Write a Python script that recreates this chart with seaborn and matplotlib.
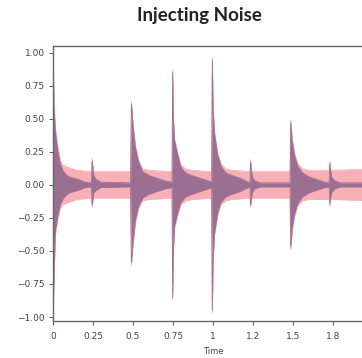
import numpy as np
import pandas as pd
import matplotlib
matplotlib.use("Agg")
import matplotlib.pyplot as plt
import seaborn as sns

# clean signal envelope (time in s, upper, lower)
clean_t = [0.000, 0.006, 0.015, 0.030, 0.045, 0.060, 0.080, 0.100, 0.130, 0.160, 0.200,
           0.240, 0.245, 0.255, 0.270, 0.300, 0.485,
           0.490, 0.500, 0.515, 0.535, 0.560, 0.600, 0.650, 0.700, 0.744,
           0.748, 0.752, 0.760, 0.780, 0.800, 0.830, 0.870, 0.920, 0.970, 0.992,
           0.996, 1.000, 1.010, 1.030, 1.050, 1.080, 1.120, 1.170, 1.220, 1.231,
           1.235, 1.245, 1.260, 1.300, 1.482,
           1.486, 1.495, 1.510, 1.530, 1.560, 1.600, 1.650, 1.700, 1.726,
           1.730, 1.740, 1.760, 1.800, 2.000]
clean_hi = [1.00, 0.60, 0.40, 0.26, 0.16, 0.11, 0.08, 0.06, 0.05, 0.04, 0.02,
            0.015, 0.18, 0.07, 0.04, 0.02, 0.015,
            0.61, 0.45, 0.28, 0.17, 0.10, 0.07, 0.05, 0.03, 0.02,
            0.85, 0.50, 0.33, 0.22, 0.13, 0.09, 0.07, 0.05, 0.03, 0.02,
            0.94, 0.58, 0.38, 0.22, 0.14, 0.09, 0.07, 0.05, 0.02, 0.015,
            0.17, 0.06, 0.03, 0.015, 0.015,
            0.47, 0.33, 0.22, 0.14, 0.09, 0.06, 0.04, 0.02, 0.015,
            0.16, 0.06, 0.03, 0.015, 0.015]
clean_lo = [-1.00, -0.70, -0.35, -0.24, -0.15, -0.11, -0.08, -0.06, -0.05, -0.04, -0.02,
            -0.015, -0.15, -0.06, -0.04, -0.02, -0.015,
            -0.59, -0.44, -0.27, -0.16, -0.10, -0.07, -0.05, -0.03, -0.02,
            -0.85, -0.50, -0.31, -0.21, -0.13, -0.09, -0.07, -0.05, -0.03, -0.02,
            -0.95, -0.58, -0.36, -0.21, -0.13, -0.09, -0.07, -0.05, -0.02, -0.015,
            -0.15, -0.06, -0.03, -0.015, -0.015,
            -0.47, -0.33, -0.22, -0.14, -0.09, -0.06, -0.04, -0.02, -0.015,
            -0.14, -0.06, -0.03, -0.015, -0.015]

# noisy signal envelope (flat noise band, spikes poke out of it)
noisy_t = [0.000, 0.006, 0.015, 0.030, 0.045, 0.060, 0.080, 0.100, 0.150, 0.240,
           0.245, 0.252, 0.485,
           0.490, 0.500, 0.515, 0.535, 0.560, 0.600, 0.744,
           0.748, 0.752, 0.760, 0.780, 0.800, 0.830, 0.870, 0.990,
           0.996, 1.000, 1.010, 1.030, 1.050, 1.080, 1.120, 1.230,
           1.235, 1.242, 1.480,
           1.486, 1.495, 1.510, 1.530, 1.560, 1.600, 1.725,
           1.730, 1.737, 2.000]
noisy_hi = [1.03, 0.63, 0.43, 0.29, 0.19, 0.15, 0.14, 0.13, 0.11, 0.10,
            0.20, 0.10, 0.10,
            0.63, 0.47, 0.30, 0.19, 0.12, 0.11, 0.10,
            0.87, 0.52, 0.35, 0.24, 0.15, 0.12, 0.11, 0.10,
            0.96, 0.60, 0.40, 0.24, 0.16, 0.12, 0.11, 0.10,
            0.19, 0.10, 0.10,
            0.49, 0.35, 0.24, 0.16, 0.12, 0.11, 0.11,
            0.18, 0.11, 0.12]
noisy_lo = [-1.03, -0.72, -0.38, -0.26, -0.18, -0.15, -0.14, -0.13, -0.11, -0.10,
            -0.17, -0.10, -0.10,
            -0.61, -0.46, -0.29, -0.18, -0.12, -0.11, -0.10,
            -0.87, -0.52, -0.33, -0.23, -0.15, -0.12, -0.11, -0.10,
            -0.97, -0.60, -0.38, -0.23, -0.15, -0.12, -0.11, -0.10,
            -0.17, -0.10, -0.10,
            -0.49, -0.35, -0.24, -0.16, -0.12, -0.11, -0.11,
            -0.16, -0.11, -0.12]

x_ticks = [0, 0.25, 0.5, 0.75, 1.0, 1.25, 1.5, 1.75]
x_labels = ["0", "0.25", "0.5", "0.75", "1", "1.2", "1.5", "1.8"]
y_ticks = [1.0, 0.75, 0.5, 0.25, 0.0, -0.25, -0.5, -0.75, -1.0]

clean = pd.DataFrame({"t": clean_t, "hi": clean_hi, "lo": clean_lo})
noisy = pd.DataFrame({"t": noisy_t, "hi": noisy_hi, "lo": noisy_lo})

sns.set_theme(style="ticks")
plt.rcParams["font.family"] = ["DejaVu Sans"]

pink = "#f7b0b5"
mauve = "#9c6e92"

fig = plt.figure(figsize=(3.62, 3.58), dpi=100)
ax = fig.add_axes([53/362, 37/358, 320/362, 275/358])

ax.fill_between(noisy["t"], noisy["lo"], noisy["hi"], color=pink, linewidth=0)
sns.lineplot(data=noisy, x="t", y="hi", ax=ax, color=pink, linewidth=0.6)
sns.lineplot(data=noisy, x="t", y="lo", ax=ax, color=pink, linewidth=0.6)
ax.fill_between(clean["t"], clean["lo"], clean["hi"], color=mauve, linewidth=0)
sns.lineplot(data=clean, x="t", y="hi", ax=ax, color=mauve, linewidth=0.6)
sns.lineplot(data=clean, x="t", y="lo", ax=ax, color=mauve, linewidth=0.6)

ax.set_xlim(0, 2.0)
ax.set_ylim(-1.03, 1.05)
ax.set_xticks(x_ticks)
ax.set_xticklabels(x_labels)
ax.set_yticks(y_ticks)
ax.set_yticklabels([f"{v:.2f}".replace("-", "\u2212") for v in y_ticks])
ax.tick_params(axis="both", labelsize=6.5, length=3, width=0.7, colors="#555555",
               labelcolor="#444444")
ax.tick_params(axis="x", pad=5)
ax.tick_params(axis="y", pad=3)
ax.set_xlabel("Time", fontsize=6, color="#444444", labelpad=4)
ax.set_ylabel("")
for s in ax.spines.values():
    s.set_color("#666666")
    s.set_linewidth(1.0)

fig.text(199/362, 1 - 16/358, "Injecting Noise", ha="center", va="center",
         fontsize=13.5, fontweight="bold", family=["Lato", "DejaVu Sans"], color="#222222")

fig.savefig("out.png", dpi=100)
